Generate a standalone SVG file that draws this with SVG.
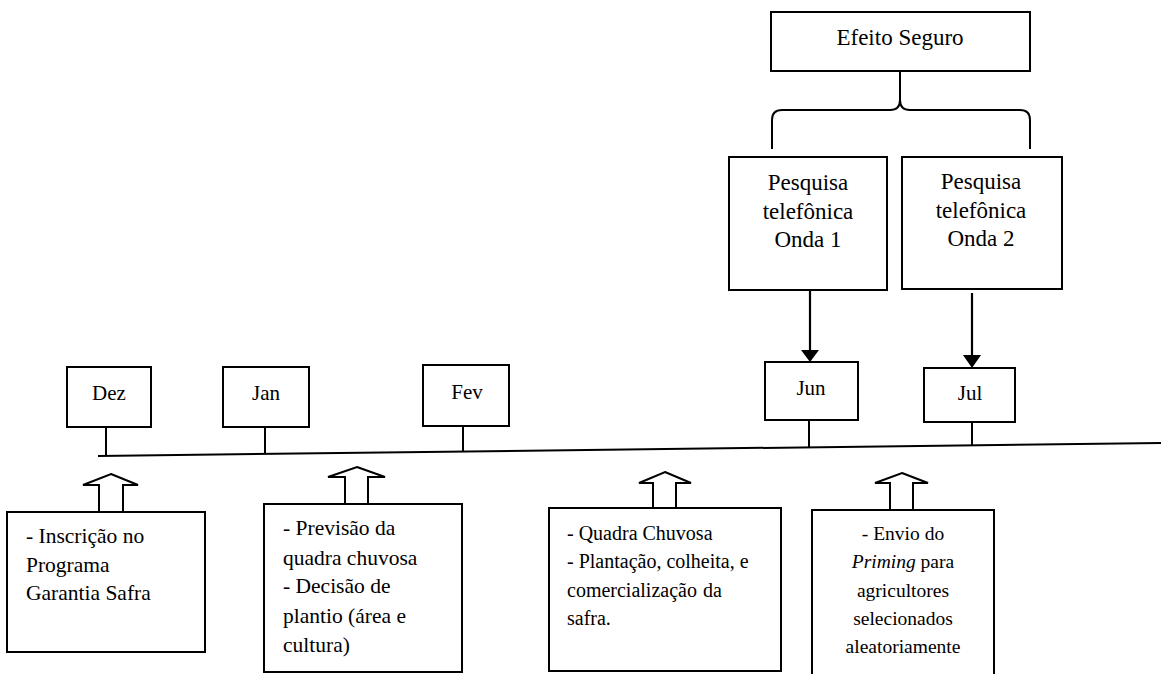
<svg xmlns="http://www.w3.org/2000/svg" width="1161" height="674" viewBox="0 0 1161 674">
<defs>
<style>
.box{fill:#fff;stroke:#000;stroke-width:2}
.ln{fill:none;stroke:#000;stroke-width:2}
.blk{fill:#fff;stroke:#000;stroke-width:2;stroke-linejoin:miter}
text{font-family:"Liberation Serif","Times New Roman",serif;fill:#000}
.t23{font-size:23px;text-anchor:middle}
.t21{font-size:21px;text-anchor:middle}
.b21{font-size:21.5px}
.b20{font-size:20px}
.c19{font-size:19.5px;text-anchor:middle}
</style>
<marker id="ah" markerWidth="10" markerHeight="10" refX="8" refY="5" orient="auto" markerUnits="userSpaceOnUse" viewBox="0 0 10 10">
<path d="M0,0 L10,5 L0,10 z" fill="#000"/>
</marker>
</defs>
<rect width="1161" height="674" fill="#fff"/>

<g id="connectors">
<line class="ln" x1="98" y1="456" x2="1161" y2="443"/>
<line class="ln" x1="106" y1="428" x2="106" y2="456"/>
<line class="ln" x1="265" y1="428" x2="265" y2="454"/>
<line class="ln" x1="463" y1="426" x2="463" y2="451.5"/>
<line class="ln" x1="809" y1="420" x2="809" y2="447"/>
<line class="ln" x1="972" y1="422" x2="972" y2="445"/>
<path class="ln" d="M900,71 L900,100 Q900,110 890,110 L782,110 Q772,110 772,120 L772,149"/>
<path class="ln" d="M900,100 Q900,110 910,110 L1020,110 Q1030,110 1030,120 L1030,149"/>
<path d="M810,291 L810,352" stroke="#000" stroke-width="2.2"/>
<path d="M801,350 L819,350 L810,362 z" fill="#000"/>
<path d="M972,293 L972,357" stroke="#000" stroke-width="2.2"/>
<path d="M963,355 L981,355 L972,368 z" fill="#000"/>
<polygon class="blk" points="111,474 138,485 123,485 123,512 99,512 99,485 83,485"/>
<polygon class="blk" points="357,467 385,477 368,477 368,504 345,504 345,477 328,477"/>
<polygon class="blk" points="665,472 691,483 676,483 676,508 653,508 653,483 639,483"/>
<polygon class="blk" points="902,473 928,483 913,483 913,510 890,510 890,483 875,483"/>
</g>

<g id="efeito">
<rect class="box" x="771" y="12" width="259" height="59"/>
<text class="t23" x="900" y="45">Efeito  Seguro</text>
</g>

<g id="onda1">
<rect class="box" x="729" y="157" width="158" height="133"/>
<text class="t23" x="808" y="190">Pesquisa</text>
<text class="t23" x="808" y="219">telefônica</text>
<text class="t23" x="808" y="247">Onda 1</text>
</g>

<g id="onda2">
<rect class="box" x="902" y="157" width="160" height="132"/>
<text class="t23" x="981" y="189">Pesquisa</text>
<text class="t23" x="981" y="218">telefônica</text>
<text class="t23" x="981" y="246">Onda 2</text>
</g>

<g id="dez">
<rect class="box" x="67" y="367" width="84" height="60"/>
<text class="t21" x="109" y="400">Dez</text>
</g>
<g id="jan">
<rect class="box" x="223" y="367" width="86" height="60"/>
<text class="t21" x="266" y="400">Jan</text>
</g>
<g id="fev">
<rect class="box" x="423" y="365" width="86" height="61"/>
<text class="t21" x="467" y="399">Fev</text>
</g>
<g id="jun">
<rect class="box" x="765" y="362" width="93" height="58"/>
<text class="t21" x="811" y="395">Jun</text>
</g>
<g id="jul">
<rect class="box" x="924" y="368" width="91" height="54"/>
<text class="t21" x="970" y="400">Jul</text>
</g>

<g id="inscricao">
<rect class="box" x="7" y="512" width="198" height="140"/>
<text class="b21" x="26" y="543">- Inscrição no</text>
<text class="b21" x="26" y="572">Programa</text>
<text class="b21" x="26" y="600">Garantia  Safra</text>
</g>

<g id="previsao">
<rect class="box" x="264" y="504" width="198" height="168"/>
<text class="b21" x="283" y="535">- Previsão da</text>
<text class="b21" x="283" y="565">quadra chuvosa</text>
<text class="b21" x="283" y="593">- Decisão de</text>
<text class="b21" x="283" y="623">plantio (área e</text>
<text class="b21" x="283" y="652">cultura)</text>
</g>

<g id="quadra">
<rect class="box" x="549" y="508" width="232" height="163"/>
<text class="b20" x="567" y="540">- Quadra Chuvosa</text>
<text class="b20" x="567" y="568">- Plantação, colheita, e</text>
<text class="b20" x="567" y="597">comercialização</text>
<text class="b20" x="703" y="597">da</text>
<text class="b20" x="567" y="625">safra.</text>
</g>

<g id="priming">
<rect class="box" x="812" y="510" width="182" height="175"/>
<text class="c19" x="903" y="540">- Envio do</text>
<text class="c19" x="903" y="568"><tspan font-style="italic">Priming</tspan> para</text>
<text class="c19" x="903" y="597">agricultores</text>
<text class="c19" x="903" y="625">selecionados</text>
<text class="c19" x="903" y="653">aleatoriamente</text>
</g>
</svg>
